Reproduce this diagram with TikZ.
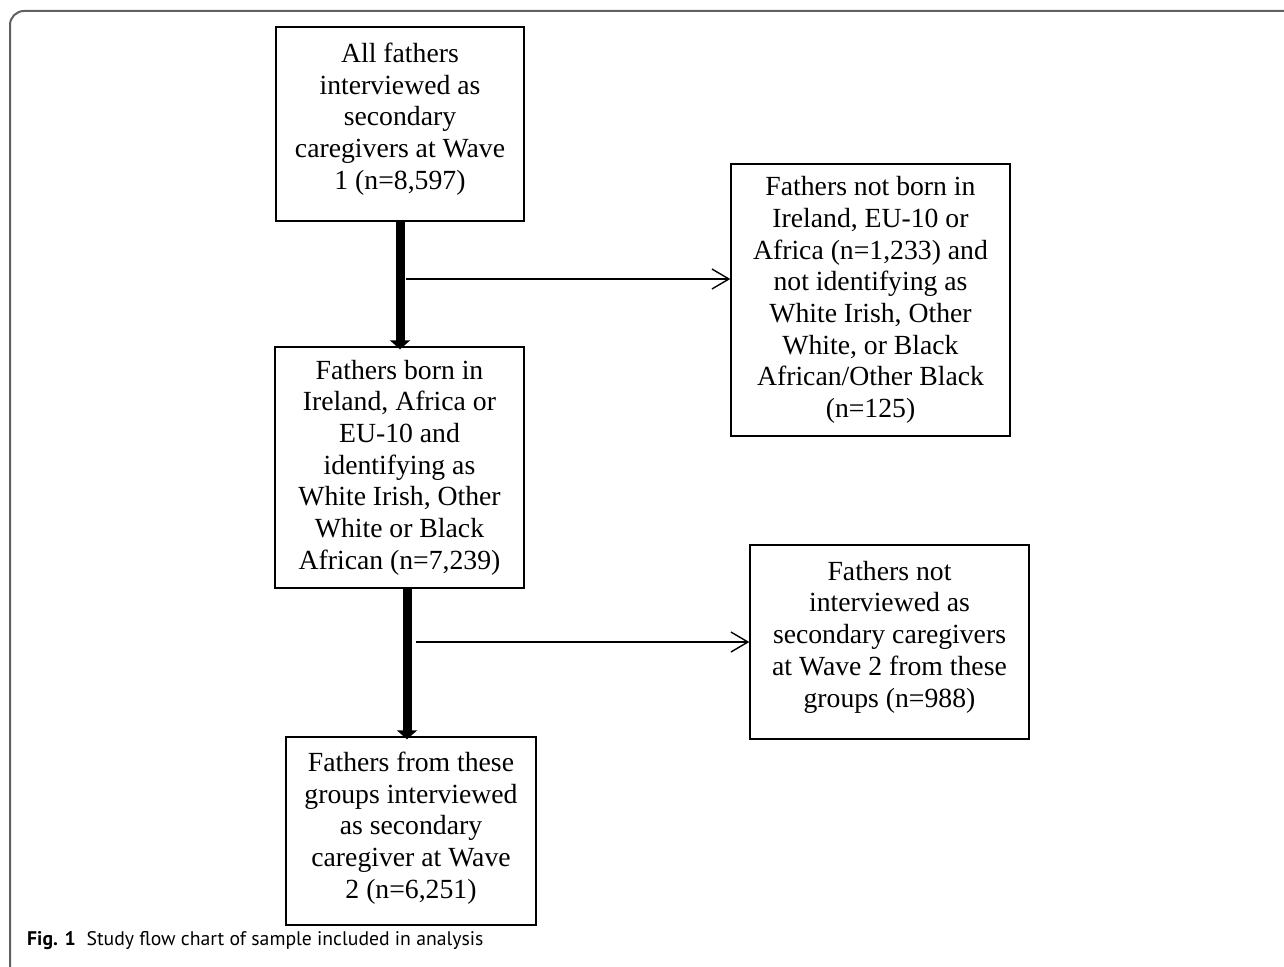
\documentclass[tikz,border=0pt]{standalone}
\usepackage{fontspec}
\setmainfont{Liberation Serif}
\newfontfamily\capfont{PT Sans}
\usetikzlibrary{positioning,arrows.meta}
\tikzset{
  stage/.style={draw, line width=1.4pt, align=center, inner sep=0pt,
    font=\fontsize{27.7}{31.7}\selectfont},
  lift/.style={text depth=#1},
  bigarrow/.style={line width=9pt, -{Triangle[length=9pt,width=20pt]}, shorten >=-3pt},
  sidearrow/.style={line width=1.4pt, -{Straight Barb[length=17pt,width=20pt]}}
}

\begin{document}
\begin{tikzpicture}[x=1pt,y=-1pt]
  \useasboundingbox (0,0) rectangle (1284,966);
  \begin{scope}
    \clip (0,0) rectangle (1284,966);
    \draw[gray!75!black, line width=2pt, rounded corners=14pt] (10,11) rectangle (1320,992);
  \end{scope}
  \node[stage, lift=16pt, minimum width=248pt, minimum height=194pt] (all) at (400,124)
    {All fathers\\ interviewed as\\ secondary\\ caregivers at Wave\\ 1 (n=8,597)};
  \node[stage, minimum width=279pt, minimum height=272pt] (excl1) at (870.5,300)
    {Fathers not born in\\ Ireland, EU-10 or\\ Africa (n=1,233) and\\ not identifying as\\
     White Irish, Other\\ White, or Black\\ African/Other Black\\ (n=125)};
  \node[stage, minimum width=249pt, minimum height=241pt] (mid) at (399.5,467.5)
    {Fathers born in\\ Ireland, Africa or\\ EU-10 and\\ identifying as\\
     White Irish, Other\\ White or Black\\ African (n=7,239)};
  \node[stage, lift=16pt, minimum width=279pt, minimum height=194pt] (excl2) at (889.5,642)
    {Fathers not\\ interviewed as\\ secondary caregivers\\ at Wave 2 from these\\ groups (n=988)};
  \node[stage, lift=12pt, minimum width=250pt, minimum height=188pt] (final) at (411,831)
    {Fathers from these\\ groups interviewed\\ as secondary\\ caregiver at Wave\\ 2 (n=6,251)};
  % main flow
  \draw[bigarrow] (all.south) -- (all.south |- mid.north);
  \draw[bigarrow] ([xshift=7.5pt]mid.south) -- ([xshift=7.5pt]mid.south |- final.north);
  % exclusions
  \coordinate (split1) at (406,279);
  \coordinate (split2) at (416,642);
  \draw[sidearrow] (split1) -- (split1 -| excl1.west);
  \draw[sidearrow] (split2) -- (split2 -| excl2.west);
  \node[anchor=base west, inner sep=0pt, font=\capfont\fontsize{19.7}{23}\selectfont] (caption) at (27,945)
    {\textbf{Fig. 1}\hspace{0.55em}Study flow chart of sample included in analysis};
\end{tikzpicture}
\end{document}
